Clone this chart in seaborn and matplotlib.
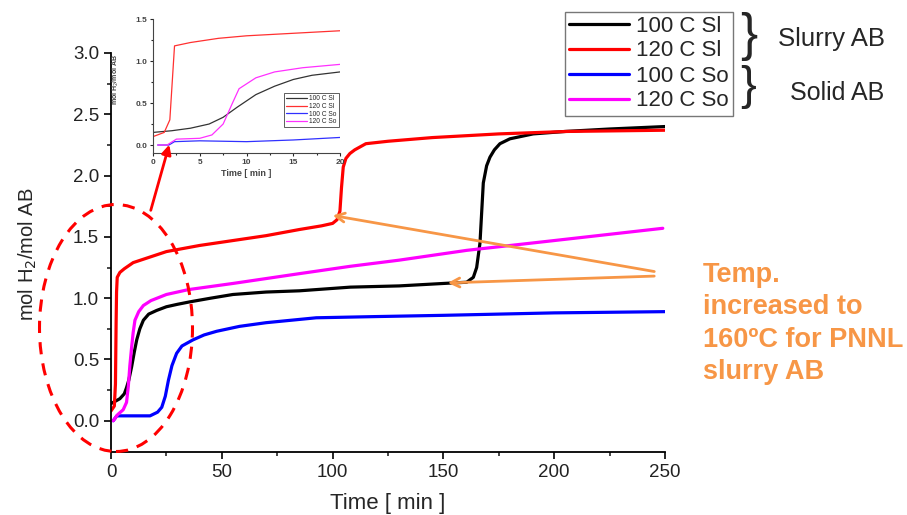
import matplotlib
matplotlib.use('Agg')
import matplotlib.pyplot as plt
import seaborn as sns
import numpy as np
from matplotlib.patches import Ellipse, FancyArrowPatch

sns.set_style('white')
plt.rcParams['font.family'] = ['Liberation Sans', 'DejaVu Sans']

# main plot data (time in min, mol H2 / mol AB)
t_100sl = [0, 2, 4, 6, 7, 8, 9.3, 10.5, 11.6, 13, 14.6, 17, 20.6, 25, 30, 35.6, 45, 55, 70,
           85, 108, 130, 150, 160.5, 163.5, 165, 166.5, 168, 169.5, 171, 173, 175.5, 180,
           190.5, 205, 225, 250]
y_100sl = [0.14, 0.16, 0.18, 0.22, 0.27, 0.33, 0.44, 0.56, 0.66, 0.75, 0.82, 0.87, 0.90,
           0.93, 0.95, 0.97, 1.00, 1.03, 1.05, 1.06, 1.09, 1.10, 1.12, 1.13, 1.17, 1.25,
           1.45, 1.94, 2.08, 2.15, 2.21, 2.26, 2.30, 2.34, 2.36, 2.38, 2.40]

t_120sl = [0, 1.5, 2.0, 2.3, 2.5, 2.8, 4, 6, 10, 15, 25, 40, 55, 70, 85, 95, 100, 102,
           103.3, 104, 104.8, 106, 107.8, 110, 115, 125, 145, 175, 205.8, 250]
y_120sl = [0.08, 0.12, 0.30, 0.80, 1.05, 1.17, 1.21, 1.24, 1.29, 1.32, 1.38, 1.43, 1.47,
           1.51, 1.56, 1.59, 1.61, 1.64, 1.71, 1.90, 2.07, 2.14, 2.18, 2.21, 2.26, 2.28,
           2.31, 2.34, 2.36, 2.37]

t_100so = [1, 2.6, 10, 17.6, 21, 22.9, 24.5, 25.9, 27.5, 29.6, 32, 37, 42, 47.7, 58, 70,
           92.6, 120, 150, 200, 250]
y_100so = [0.0, 0.04, 0.04, 0.04, 0.07, 0.11, 0.20, 0.33, 0.45, 0.55, 0.61, 0.66, 0.70,
           0.73, 0.77, 0.80, 0.84, 0.85, 0.86, 0.88, 0.89]

t_120so = [1, 3, 5.5, 7, 7.8, 8.5, 9.3, 10, 10.8, 12.5, 14.6, 18, 25, 35, 55, 85, 108,
           130, 160.5, 200, 249]
y_120so = [0.0, 0.05, 0.09, 0.15, 0.28, 0.45, 0.60, 0.72, 0.82, 0.89, 0.94, 0.98, 1.03,
           1.07, 1.12, 1.20, 1.26, 1.31, 1.39, 1.47, 1.57]

# inset data (first 20 min)
ti_100sl = [0, 2, 4, 6, 7.5, 9, 11, 13, 15, 17, 20]
yi_100sl = [0.15, 0.17, 0.20, 0.25, 0.33, 0.45, 0.60, 0.70, 0.78, 0.83, 0.87]
ti_120sl = [0, 1.2, 1.8, 2.3, 4, 7, 10, 15, 20]
yi_120sl = [0.10, 0.15, 0.30, 1.18, 1.22, 1.27, 1.30, 1.33, 1.36]
ti_100so = [0.5, 1.7, 2.3, 5, 10, 15, 20]
yi_100so = [0.0, 0.0, 0.04, 0.05, 0.04, 0.06, 0.09]
ti_120so = [0.5, 1.5, 2.5, 5, 6.3, 7.5, 8.5, 9.2, 11, 13, 16, 20]
yi_120so = [0.0, 0.0, 0.07, 0.08, 0.12, 0.25, 0.50, 0.67, 0.80, 0.87, 0.92, 0.96]

labels = ['100 C Sl', '120 C Sl', '100 C So', '120 C So']
colors = ['black', '#ff0000', '#0000ff', '#ff00ff']

fig = plt.figure(figsize=(9.07, 5.15), dpi=100)

# ---- main axes ----
ax = fig.add_axes([0.1224, 0.1223, 0.6108, 0.7748])
main = [(t_100sl, y_100sl), (t_120sl, y_120sl), (t_100so, y_100so), (t_120so, y_120so)]
for (t, y), lab, c in zip(main, labels, colors):
    sns.lineplot(x=t, y=y, ax=ax, color=c, linewidth=2.3, label=lab, sort=False, estimator=None)
ax.set_xlim(0, 250)
ax.set_ylim(-0.255, 3.0)
ax.set_xticks([0, 50, 100, 150, 200, 250])
ax.set_xticks([25, 75, 125, 175, 225], minor=True)
ax.set_yticks([0.0, 0.5, 1.0, 1.5, 2.0, 2.5, 3.0])
ax.set_yticks([0.25, 0.75, 1.25, 1.75, 2.25, 2.75], minor=True)
ax.set_yticklabels(['0.0', '0.5', '1.0', '1.5', '2.0', '2.5', '3.0'])
ax.tick_params(which='major', direction='out', length=5, width=1.2, labelsize=13.5,
               left=True, bottom=True, colors='black', labelcolor='#222222')
ax.tick_params(which='minor', direction='out', length=3, width=1.2, left=True, bottom=True)
for s in ['top', 'right']:
    ax.spines[s].set_visible(False)
for s in ['left', 'bottom']:
    ax.spines[s].set_color('black')
    ax.spines[s].set_linewidth(1.3)
ax.set_xlabel('Time [ min ]', fontsize=16)
ax.set_ylabel('mol H$_2$/mol AB', fontsize=14.5)
ax.xaxis.set_label_coords(0.5, -0.102)
ax.yaxis.set_label_coords(-0.13, 0.496)
ax.get_legend().remove()
handles, labs = ax.get_legend_handles_labels()

leg = fig.legend(handles, labs, loc='upper right', bbox_to_anchor=(733 / 907, 1 - 11.5 / 515),
                 borderaxespad=0, fontsize=16, handlelength=2.7, labelspacing=0.18,
                 borderpad=0.18, handletextpad=0.35, fancybox=False, frameon=True, framealpha=1)
leg.get_frame().set_edgecolor('#777777')
leg.get_frame().set_linewidth(1.0)

# ---- inset ----
axi = fig.add_axes([0.1687, 0.7021, 0.2062, 0.261])
inset = [(ti_100sl, yi_100sl), (ti_120sl, yi_120sl), (ti_100so, yi_100so), (ti_120so, yi_120so)]
icolors = ['#333333', '#ff3030', '#3030ff', '#ff30ff']
for (t, y), lab, c in zip(inset, labels, icolors):
    sns.lineplot(x=t, y=y, ax=axi, color=c, linewidth=0.9, label=lab, sort=False, estimator=None)
axi.set_xlim(0, 20)
axi.set_ylim(-0.1, 1.5)
axi.set_xticks([0, 5, 10, 15, 20])
axi.set_xticks([2.5, 7.5, 12.5, 17.5], minor=True)
axi.set_yticks([0.0, 0.5, 1.0, 1.5])
axi.set_yticks([0.25, 0.75, 1.25], minor=True)
axi.set_yticklabels(['0.0', '0.5', '1.0', '1.5'])
axi.tick_params(which='major', direction='out', length=2.5, width=0.8, labelsize=6,
                left=True, bottom=True, labelcolor='#444444', pad=1.5)
axi.tick_params(which='minor', direction='out', length=1.5, width=0.8, left=True, bottom=True)
for lbl in axi.get_xticklabels() + axi.get_yticklabels():
    lbl.set_fontweight('bold')
for s in ['top', 'right']:
    axi.spines[s].set_visible(False)
for s in ['left', 'bottom']:
    axi.spines[s].set_color('#444444')
    axi.spines[s].set_linewidth(0.8)
axi.set_xlabel('Time [ min ]', fontsize=6.5, fontweight='bold', color='#444444', labelpad=2)
axi.set_ylabel('mol H$_2$/mol AB', fontsize=5, fontweight='bold', color='#444444')
axi.yaxis.set_label_coords(-0.17, 0.55)
lg = axi.legend(loc='lower right', bbox_to_anchor=(1.01, 0.17), fontsize=4.8,
                handlelength=3.2, labelspacing=0.1, borderpad=0.3, handletextpad=0.3,
                fancybox=False, framealpha=1)
lg.get_frame().set_edgecolor('#444444')
lg.get_frame().set_linewidth(0.6)

# ---- annotations in figure pixels ----
W, H = 907, 515
def fp(x, y):
    return (x / W, 1 - y / H)

ell = Ellipse(fp(116, 328), 153 / W, 247 / H, transform=fig.transFigure, fill=False,
              edgecolor='#ff0000', linestyle=(0, (4, 3)), linewidth=2.2)
fig.add_artist(ell)
fig.add_artist(FancyArrowPatch(fp(150, 213), fp(170, 142), transform=fig.transFigure,
                               arrowstyle='-|>', mutation_scale=14, color='#ff0000', linewidth=2))

orange = '#F79646'
fig.add_artist(FancyArrowPatch(fp(657, 272), fp(330, 215), transform=fig.transFigure,
                               arrowstyle='->', mutation_scale=16, color=orange, linewidth=2))
fig.add_artist(FancyArrowPatch(fp(657, 276), fp(445, 283), transform=fig.transFigure,
                               arrowstyle='->', mutation_scale=16, color=orange, linewidth=2))
fig.text(703 / W, 1 - 262 / H, 'Temp.\nincreased to\n160ºC for PNNL\nslurry AB',
         color=orange, fontsize=19.5, fontweight='bold', va='top', ha='left', linespacing=1.32)

# braces and group labels
fig.text(740 / W, 1 - 36 / H, '}', fontsize=37, va='center', ha='left')
fig.text(740 / W, 1 - 87 / H, '}', fontsize=34, va='center', ha='left')
fig.text(778 / W, 1 - 39 / H, 'Slurry AB', fontsize=18.5, va='center', ha='left')
fig.text(790 / W, 1 - 93 / H, 'Solid AB', fontsize=18, va='center', ha='left')

fig.savefig('out.png', dpi=100)
